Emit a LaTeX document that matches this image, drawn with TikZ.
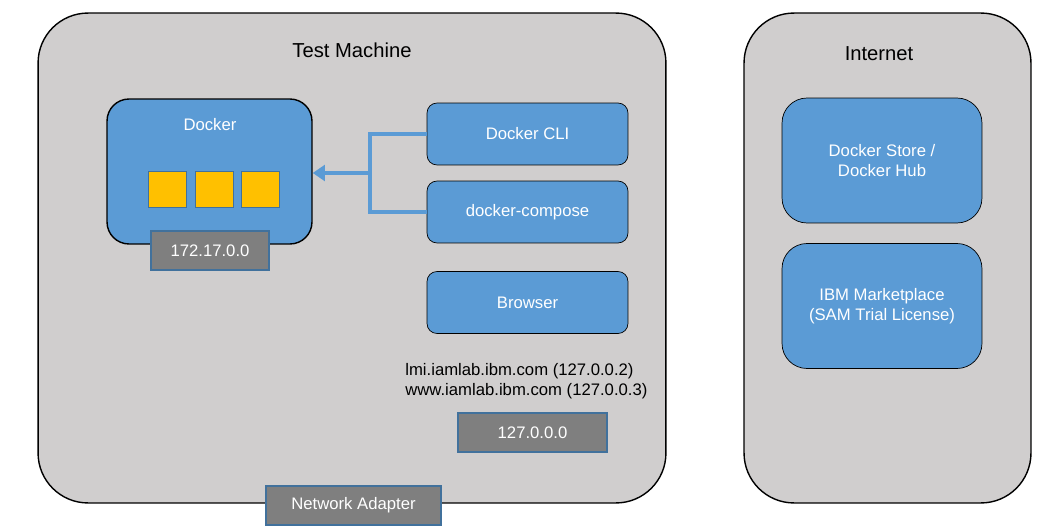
\documentclass[tikz,border=0pt]{standalone}
\usepackage{fontspec}
\setmainfont{Liberation Sans}
\usetikzlibrary{arrows.meta}

\definecolor{boxgray}{HTML}{D0CECE}
\definecolor{docblue}{HTML}{5B9BD5}
\definecolor{edgeblue}{HTML}{41719C}
\definecolor{netgray}{HTML}{7F7F7F}
\definecolor{contyellow}{HTML}{FFC000}

\tikzset{
    zone/.style={draw=black, thick, fill=boxgray, rounded corners=1cm},
    engine/.style={draw=black, thick, fill=docblue, rounded corners=0.44cm, text=white},
    tool/.style={draw=black, fill=docblue, rounded corners=0.2cm, text=white,
        minimum width=4.02cm, minimum height=1.24cm},
    remote/.style={draw=black, fill=docblue, rounded corners=0.5cm, text=white,
        minimum width=4cm, minimum height=2.5cm, align=center},
    container/.style={draw=edgeblue, fill=contyellow, minimum width=0.76cm, minimum height=0.72cm},
    addr/.style={draw=edgeblue, thick, fill=netgray, text=white,
        minimum height=0.78cm},
    link/.style={draw=docblue, line width=2pt}
}

\begin{document}
\begin{tikzpicture}[x=0.02cm, y=-0.02cm, font=\fontsize{9.5}{11.3}\selectfont]
    \useasboundingbox (0, 0) rectangle (1047, 530);

    % Test machine and internet
    \node[zone, minimum width=12.56cm, minimum height=9.8cm] (machine) at (352, 258) {};
    \node[zone, minimum width=5.74cm, minimum height=9.8cm] (internet) at (887.5, 258) {};
    \node[font=\fontsize{11.5}{13}\selectfont] (machinetitle) at (352, 50) {Test Machine};
    \node[font=\fontsize{11.5}{13}\selectfont] (internettitle) at (879, 54) {Internet};

    % Docker engine with containers
    \node[engine, minimum width=4.1cm, minimum height=2.9cm] (docker) at (209.5, 171.5) {};
    \node[text=white] (dockertitle) at (210, 125) {Docker};
    \node[container] (c1) at (167.5, 189) {};
    \node[container] (c2) at (214, 189) {};
    \node[container] (c3) at (260, 189) {};
    \node[addr, minimum width=2.36cm] (bridge) at (210, 250.5) {172.17.0.0};

    % Client tools
    \node[tool] (cli) at (527.5, 134) {Docker CLI};
    \node[tool] (compose) at (527.5, 212) {docker-compose};
    \node[tool] (browser) at (527.5, 302.5) {Browser};

    \coordinate (join) at (370, 173);
    \draw[link] (cli.west) -| (join) |- (compose.west);
    \draw[link, -{Triangle[length=7pt, width=9pt]}] (join) -- (join -| docker.east);

    % Loopback
    \node[anchor=west, align=left, inner sep=0pt] (hosts) at (405, 381)
        {lmi.iamlab.ibm.com (127.0.0.2)\\www.iamlab.ibm.com (127.0.0.3)};
    \node[addr, minimum width=2.98cm] (loopback) at (532.5, 432.5) {127.0.0.0};
    \node[addr, minimum width=3.5cm] (adapter) at (353.5, 505.5) {Network Adapter};

    % Internet services
    \node[remote] (hub) at (882, 160.5) {Docker Store /\\Docker Hub};
    \node[remote] (market) at (882, 306) {IBM Marketplace\\(SAM Trial License)};
\end{tikzpicture}
\end{document}
